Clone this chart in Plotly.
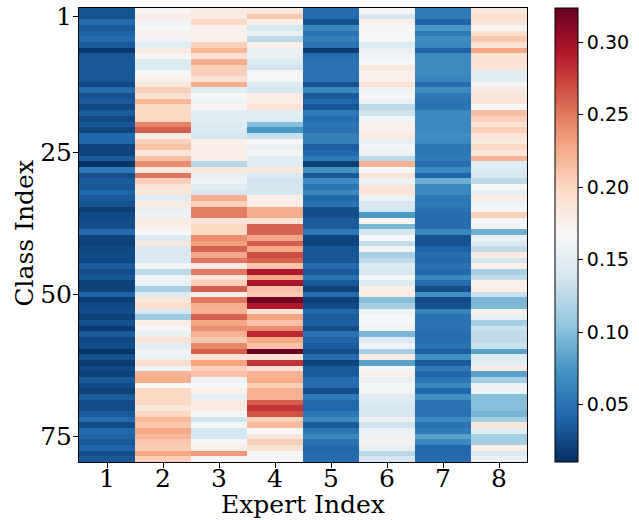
import plotly.graph_objects as go

experts = [1, 2, 3, 4, 5, 6, 7, 8]
class_idx = list(range(80))
y_tickvals = [1, 25, 50, 75]
y_ticktext = ["1", "25", "50", "75"]
cbar_ticks = [0.05, 0.10, 0.15, 0.20, 0.25, 0.30]

expert_1 = [.03, .03, .045, .035, .04, .045, .035, .015, .033, .033, .033, .033, .033, .025, .045, .03,
            .035, .025, .035, .025, .032, .022, .042, .042, .022, .022, .035, .012, .055, .027, .035, .033,
            .042, .035, .03, .018, .025, .027, .027, .045, .02, .02, .025, .026, .025, .035, .027, .033, .02,
            .02, .04, .018, .025, .027, .02, .03, .017, .035, .025, .027, .013, .03, .016, .025, .02,
            .033, .026, .02, .035, .027, .026, .034, .045, .026, .043, .04, .033, .04, .027, .033]
expert_2 = [.17, .18, .16, .165, .175, .16, .15, .18, .17, .145, .145, .165, .175, .185, .205, .19,
            .22, .2, .2, .2, .245, .262, .18, .205, .212, .185, .215, .24, .185, .252, .205, .19,
            .185, .148, .182, .155, .157, .18, .178, .165, .145, .185, .143, .143, .143, .163, .124, .162, .156,
            .115, .145, .187, .195, .14, .11, .178, .165, .155, .19, .148, .16, .156, .195, .16, .222,
            .225, .167, .2, .2, .2, .185, .2, .218, .21, .228, .218, .21, .206, .228, .206]
expert_3 = [.18, .18, .2, .175, .175, .175, .205, .22, .19, .225, .205, .205, .19, .225, .15, .165,
            .16, .17, .15, .15, .145, .145, .14, .175, .177, .177, .177, .123, .185, .155, .158, .15,
            .14, .225, .205, .248, .248, .188, .2, .2, .24, .232, .26, .228, .252, .18, .25, .188, .205,
            .262, .178, .25, .225, .222, .26, .228, .24, .223, .21, .243, .262, .19, .23, .205, .213,
            .158, .165, .175, .152, .182, .182, .166, .135, .163, .138, .138, .165, .178, .235, .165]
expert_4 = [.185, .21, .175, .14, .155, .125, .175, .155, .155, .145, .135, .165, .165, .145, .14, .18,
            .178, .19, .15, .147, .1, .075, .13, .165, .155, .163, .15, .148, .185, .143, .135, .137,
            .14, .178, .178, .225, .225, .19, .26, .26, .228, .262, .228, .27, .26, .212, .293, .228, .295,
            .212, .208, .318, .293, .188, .23, .213, .24, .285, .228, .213, .322, .19, .28, .188, .222,
            .225, .205, .222, .222, .262, .28, .267, .205, .217, .167, .185, .205, .19, .168, .165]
expert_5 = [.045, .045, .03, .065, .05, .06, .05, .018, .045, .05, .05, .05, .05, .03, .065, .035,
            .043, .032, .055, .047, .052, .05, .06, .06, .037, .043, .055, .018, .072, .033, .068, .052,
            .066, .043, .05, .027, .027, .035, .035, .055, .022, .022, .032, .032, .032, .045, .035, .05, .033,
            .02, .046, .02, .025, .043, .035, .038, .026, .05, .04, .035, .027, .046, .022, .035, .035,
            .046, .046, .027, .055, .043, .043, .053, .066, .034, .053, .065, .05, .043, .045, .045]
expert_6 = [.165, .14, .175, .165, .165, .165, .145, .155, .16, .165, .185, .175, .175, .19, .16, .165,
            .156, .125, .135, .163, .175, .175, .183, .155, .163, .158, .124, .222, .165, .188, .158, .185,
            .19, .157, .14, .14, .077, .168, .095, .137, .165, .127, .163, .115, .125, .145, .14, .163, .145,
            .178, .178, .1, .113, .157, .165, .165, .16, .095, .143, .158, .113, .18, .082, .165, .175,
            .155, .163, .163, .148, .145, .14, .14, .157, .135, .156, .156, .173, .155, .123, .14]
expert_7 = [.055, .055, .04, .075, .055, .068, .065, .04, .068, .068, .068, .068, .063, .045, .068, .055,
            .05, .05, .066, .066, .066, .066, .07, .065, .053, .053, .055, .047, .065, .04, .09, .066,
            .066, .054, .055, .05, .046, .046, .046, .065, .03, .03, .04, .046, .043, .05, .043, .065, .045,
            .028, .07, .025, .03, .063, .05, .05, .05, .046, .046, .05, .037, .07, .035, .056, .043,
            .053, .066, .043, .07, .05, .05, .05, .065, .05, .056, .082, .065, .043, .043, .045]
expert_8 = [.185, .195, .187, .17, .195, .21, .19, .228, .19, .19, .19, .15, .15, .17, .18, .185,
            .187, .168, .215, .205, .19, .205, .187, .183, .2, .186, .222, .148, .145, .14, .125, .167,
            .153, .178, .158, .165, .205, .163, .163, .09, .155, .143, .127, .18, .137, .175, .115, .127, .175,
            .178, .132, .095, .096, .175, .155, .113, .132, .127, .127, .132, .082, .145, .15, .18, .082,
            .113, .157, .157, .1, .1, .1, .094, .113, .185, .15, .113, .113, .176, .143, .157]

cols = [expert_1, expert_2, expert_3, expert_4, expert_5, expert_6, expert_7, expert_8]
z = [[cols[j][i] for j in range(8)] for i in range(80)]

rdbu_r = [
    [0.0, "#053061"], [0.1, "#2166ac"], [0.2, "#4393c3"], [0.3, "#92c5de"],
    [0.4, "#d1e5f0"], [0.5, "#f7f7f7"], [0.6, "#fddbc7"], [0.7, "#f4a582"],
    [0.8, "#d6604d"], [0.9, "#b2182b"], [1.0, "#67001f"],
]

serif = "DejaVu Serif"
sans = "DejaVu Sans"

fig = go.Figure(go.Heatmap(
    x=experts, y=class_idx, z=z,
    colorscale=rdbu_r, zmin=0.0103, zmax=0.3237,
    colorbar=dict(
        x=1.062, xanchor="left", xpad=0, ypad=0,
        y=0.5, yanchor="middle", len=1, lenmode="fraction",
        thickness=23, outlinewidth=1, outlinecolor="black",
        tickvals=cbar_ticks, ticktext=[f"{v:.2f}" for v in cbar_ticks],
        ticks="outside", ticklen=5, tickcolor="black",
        tickfont=dict(family=sans, size=19, color="black"),
    ),
))

fig.update_layout(
    width=639, height=520,
    margin=dict(l=79.3, r=111.7, t=7.5, b=58),
    plot_bgcolor="white", paper_bgcolor="white",
    xaxis=dict(
        range=[0.5, 8.5], tickvals=experts, ticktext=[str(e) for e in experts],
        ticks="outside", ticklen=5, tickcolor="black", automargin=False,
        showline=True, mirror=True, linecolor="black", linewidth=1,
        showgrid=False, zeroline=False, ticklabelstandoff=-11,
        tickfont=dict(family=serif, size=25, color="black"),
    ),
    yaxis=dict(
        range=[79.5, -0.5], tickvals=y_tickvals, ticktext=y_ticktext,
        ticks="outside", ticklen=5, tickcolor="black", automargin=False,
        showline=True, mirror=True, linecolor="black", linewidth=1,
        showgrid=False, zeroline=False, ticklabelstandoff=-4,
        tickfont=dict(family=serif, size=25, color="black"),
    ),
    annotations=[
        dict(text="Expert Index", xref="paper", yref="paper", x=0.5, y=-0.0946,
             xanchor="center", yanchor="middle", showarrow=False, borderpad=0,
             font=dict(family=serif, size=25, color="black")),
        dict(text="Class Index", xref="paper", yref="paper", x=-0.122, y=0.504,
             xanchor="center", yanchor="middle", showarrow=False, textangle=-90,
             font=dict(family=serif, size=25, color="black")),
    ],
)

fig.write_html("out.html", config={"displayModeBar": False},
               post_script="document.body.style.margin='0';document.body.style.padding='0';")
